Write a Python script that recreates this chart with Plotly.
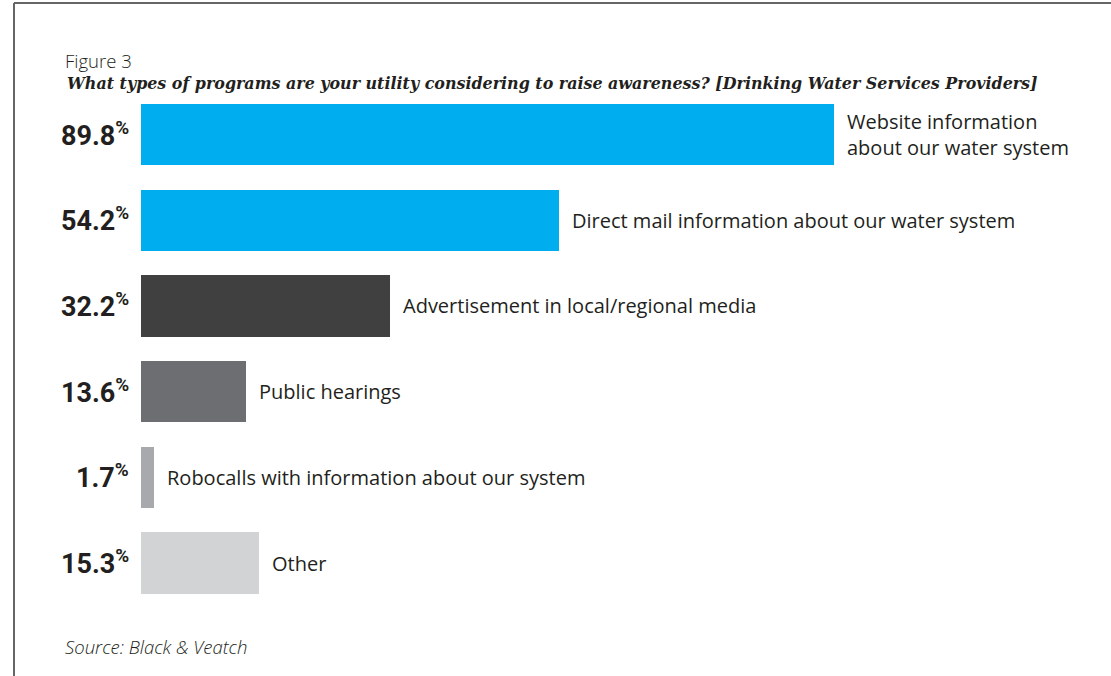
import plotly.graph_objects as go

categories = [
    "Website information<br>about our water system",
    "Direct mail information about our water system",
    "Advertisement in local/regional media",
    "Public hearings",
    "Robocalls with information about our system",
    "Other",
]
values = [89.8, 54.2, 32.2, 13.6, 1.7, 15.3]
value_labels = ["89.8", "54.2", "32.2", "13.6", "1.7", "15.3"]
colors = ["#00AEEF", "#00AEEF", "#404041", "#6D6E71", "#A7A9AC", "#D1D3D4"]

W, H = 1111, 676
x0_px = 141.0
px_per_pct = 7.72
y0_px = 134.5
pitch = 85.7

positions = list(range(len(categories)))

fig = go.Figure()
fig.add_trace(go.Bar(
    x=values, y=positions, orientation="h",
    marker=dict(color=colors, line=dict(width=0)),
    width=0.715, hoverinfo="skip", showlegend=False,
))

annotations = []
for i, (v, lab, cat) in enumerate(zip(values, value_labels, categories)):
    annotations.append(dict(
        x=0, y=i, xref="x", yref="y", xanchor="right", yanchor="middle",
        xshift=-10, yshift=1, showarrow=False,
        text=f"{lab}<sup>%</sup>",
        font=dict(family="Roboto, sans-serif", size=27, weight=700, color="#231F20"),
    ))
    annotations.append(dict(
        x=v, y=i, xref="x", yref="y", xanchor="left", yanchor="middle",
        xshift=11, showarrow=False, align="left",
        text=cat,
        font=dict(family="Open Sans, sans-serif", size=20, weight=500, color="#231F20"),
    ))

annotations += [
    dict(x=63 / W, y=1 - 60 / H, xref="paper", yref="paper", xanchor="left", yanchor="middle",
         showarrow=False, text="Figure 3",
         font=dict(family="Open Sans, sans-serif", size=18.5, weight=300, color="#231F20")),
    dict(x=65 / W, y=1 - 84 / H, xref="paper", yref="paper", xanchor="left", yanchor="middle",
         showarrow=False,
         text="<b><i>What types of programs are your utility considering to raise awareness? [Drinking Water Services Providers]</i></b>",
         font=dict(family="DejaVu Serif, serif", size=15.9, color="#231F20")),
    dict(x=63 / W, y=1 - 646 / H, xref="paper", yref="paper", xanchor="left", yanchor="middle",
         showarrow=False, text="<i>Source: Black & Veatch</i>",
         font=dict(family="Open Sans, sans-serif", size=18.5, weight=300, color="#231F20")),
]

shapes = [
    dict(type="line", xref="paper", yref="paper", x0=14 / W, x1=14 / W, y0=0, y1=1 - 3 / H,
         line=dict(color="#666666", width=2)),
    dict(type="line", xref="paper", yref="paper", x0=14 / W, x1=1, y0=1 - 3 / H, y1=1 - 3 / H,
         line=dict(color="#666666", width=2)),
]

fig.update_layout(
    width=W, height=H,
    margin=dict(l=0, r=0, t=0, b=0),
    paper_bgcolor="white", plot_bgcolor="white",
    xaxis=dict(range=[-x0_px / px_per_pct, (W - x0_px) / px_per_pct],
               visible=False, fixedrange=True),
    yaxis=dict(range=[(H - y0_px) / pitch, -y0_px / pitch],
               visible=False, fixedrange=True),
    annotations=annotations, shapes=shapes,
    bargap=0,
)

fig.write_html("out.html")
